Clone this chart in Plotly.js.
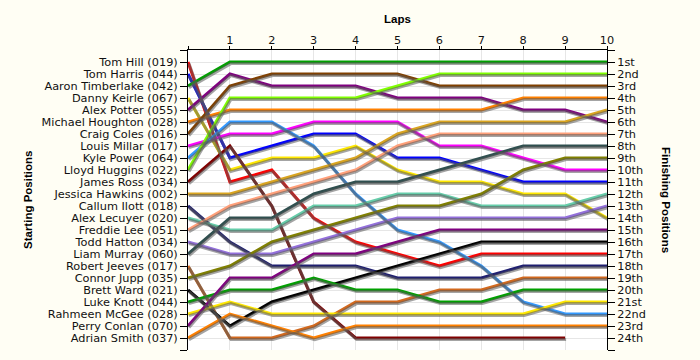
<!DOCTYPE html>
<html>
<head>
<meta charset="utf-8">
<script src="https://cdn.plot.ly/plotly-3.0.1.min.js"></script>
<style>html,body{margin:0;padding:0;background:#FFFEF4;}#chart{width:700px;height:360px;}</style>
</head>
<body>
<div id="chart"></div>
<script>
const laps = [0, 1, 2, 3, 4, 5, 6, 7, 8, 9, 10];
const lapLabels = ['', '1', '2', '3', '4', '5', '6', '7', '8', '9', '10'];
const drivers = [
  'Tom Hill (019)', 'Tom Harris (044)', 'Aaron Timberlake (042)', 'Danny Keirle (067)',
  'Alex Potter (055)', 'Michael Houghton (028)', 'Craig Coles (016)', 'Louis Millar (017)',
  'Kyle Power (064)', 'Lloyd Huggins (022)', 'James Ross (034)', 'Jessica Hawkins (002)',
  'Callum Ilott (018)', 'Alex Lecuyer (020)', 'Freddie Lee (051)', 'Todd Hatton (034)',
  'Liam Murray (060)', 'Robert Jeeves (017)', 'Connor Jupp (035)', 'Brett Ward (021)',
  'Luke Knott (044)', 'Rahmeen McGee (028)', 'Perry Conlan (070)', 'Adrian Smith (037)'
];
const finishLabels = ['1st', '2nd', '3rd', '4th', '5th', '6th', '7th', '8th', '9th', '10th', '11th', '12th',
  '13th', '14th', '15th', '16th', '17th', '18th', '19th', '20th', '21st', '22nd', '23rd', '24th'];
// position of each driver after each lap (lap 0 = grid)
const positions = [
  [1, 11, 10, 14, 16, 17, 18, 17, 17, 17, 17],
  [2, 9, 8, 7, 7, 9, 9, 10, 11, 11, 11],
  [3, 1, 1, 1, 1, 1, 1, 1, 1, 1, 1],
  [4, 10, 9, 9, 8, 10, 11, 11, 12, 12, 14],
  [5, 2, 3, 3, 3, 4, 4, 4, 5, 5, 6],
  [6, 5, 5, 5, 5, 5, 5, 5, 4, 4, 4],
  [7, 3, 2, 2, 2, 2, 3, 3, 3, 3, 3],
  [8, 7, 7, 6, 6, 6, 8, 8, 9, 10, 10],
  [9, 6, 6, 8, 12, 15, 16, 18, 21, 22, 22],
  [10, 4, 4, 4, 4, 3, 2, 2, 2, 2, 2],
  [11, 8, 13, 21, 24, 24, 24, 24, 24, 24, null],
  [12, 12, 11, 10, 9, 7, 6, 6, 6, 6, 5],
  [13, 16, 18, 18, 18, 19, 19, 19, 18, 18, 18],
  [14, 15, 15, 13, 13, 12, 12, 13, 13, 13, 12],
  [15, 13, 12, 11, 10, 8, 7, 7, 7, 7, 7],
  [16, 17, 17, 16, 15, 14, 14, 14, 14, 14, 13],
  [17, 14, 14, 12, 11, 11, 10, 9, 8, 8, 8],
  [18, 24, 24, 23, 21, 21, 20, 20, 19, 19, 19],
  [19, 18, 16, 15, 14, 13, 13, 12, 10, 9, 9],
  [20, 23, 21, 20, 19, 18, 17, 16, 16, 16, 16],
  [21, 20, 20, 19, 20, 20, 21, 21, 20, 20, 20],
  [22, 21, 22, 22, 22, 22, 22, 22, 22, 21, 21],
  [23, 19, 19, 17, 17, 16, 15, 15, 15, 15, 15],
  [24, 22, 23, 24, 23, 23, 23, 23, 23, 23, 23]
];
const colors = [
  '#FF0000', '#0000FF', '#00A000', '#FFE800', '#800080', '#FF8000', '#804000', '#FF00FF',
  '#3399FF', '#80FF00', '#800000', '#DAA520', '#1F1F70', '#66CDAA', '#FFA07A', '#9370DB',
  '#2F4F4F', '#D2691E', '#808000', '#000000', '#00A000', '#FFE800', '#800080', '#FF8000'
];

const N = drivers.length;
const gridVals = [];
for (let i = 0; i <= N + 1; i++) gridVals.push(i);
const leftText = [''].concat(drivers, ['']);
const rightText = [''].concat(finishLabels, ['']);

const plotW = 419, plotH = 300;
const shadowDx = 1 * (laps[laps.length - 1] - laps[0]) / plotW;
const shadowDy = 1.6 * (N + 1) / plotH;

const traces = [];
positions.forEach((p, i) => {
  traces.push({
    x: laps, y: p, xaxis: 'x2', yaxis: 'y3', mode: 'lines',
    line: {color: 'rgba(90,90,90,0.55)', width: 3}, hoverinfo: 'skip', showlegend: false
  });
});
positions.forEach((p, i) => {
  traces.push({
    x: laps, y: p, mode: 'lines', name: drivers[i],
    line: {color: colors[i], width: 3}, showlegend: false
  });
});
traces.push({x: [laps[laps.length - 1]], y: [1], yaxis: 'y2', mode: 'markers',
  marker: {opacity: 0}, hoverinfo: 'skip', showlegend: false});

const tickFont = {family: 'DejaVu Sans, Verdana, sans-serif', size: 11.3, color: '#111'};
const titleFont = {family: 'Liberation Sans, Arial, sans-serif', size: 11.5, color: '#000'};
const layout = {
  width: 700, height: 360,
  paper_bgcolor: '#FFFEF4', plot_bgcolor: '#FFFFFF',
  margin: {l: 188, r: 93, t: 50, b: 10},
  font: tickFont,
  showlegend: false,
  xaxis: {
    range: [laps[0], laps[laps.length - 1]], side: 'top', tickmode: 'array',
    tickvals: laps, ticktext: lapLabels, ticks: 'outside', ticklen: 3, tickcolor: '#000',
    ticklabelstandoff: -3,
    showline: true, linecolor: '#000', linewidth: 1, showgrid: true, gridcolor: '#E6E6E6',
    zeroline: false, tickfont: tickFont,
    title: {text: '<b>Laps</b>', font: titleFont, standoff: 8}
  },
  xaxis2: {range: [laps[0] - shadowDx, laps[laps.length - 1] - shadowDx], overlaying: 'x',
    visible: false, showgrid: false, zeroline: false},
  yaxis: {
    range: [N + 1, 0], tickmode: 'array', tickvals: gridVals, ticktext: leftText,
    ticks: 'outside', ticklen: 7, tickcolor: '#000', showline: true, linecolor: '#000', linewidth: 1,
    showgrid: true, gridcolor: '#E6E6E6', zeroline: false, tickfont: tickFont
  },
  yaxis2: {
    range: [N + 1, 0], overlaying: 'y', side: 'right', tickmode: 'array', tickvals: gridVals,
    ticktext: rightText, ticks: 'outside', ticklen: 7, tickcolor: '#000', showline: true,
    linecolor: '#000', linewidth: 1, showgrid: false, zeroline: false, tickfont: tickFont
  },
  yaxis3: {range: [N + 1 - shadowDy, 0 - shadowDy], overlaying: 'y', visible: false,
    showgrid: false, zeroline: false},
  annotations: [{
    text: '<b>Starting Positions</b>', textangle: -90, xref: 'paper', yref: 'paper',
    x: (28 - 188) / plotW, y: 0.5, xanchor: 'center', yanchor: 'middle', showarrow: false,
    font: titleFont
  }, {
    text: '<b>Finishing Positions</b>', textangle: 90, xref: 'paper', yref: 'paper',
    x: (666 - 188) / plotW, y: 0.5, xanchor: 'center', yanchor: 'middle', showarrow: false,
    font: titleFont
  }]
};
Plotly.newPlot('chart', traces, layout, {displayModeBar: false, staticPlot: true});
</script>
</body>
</html>
